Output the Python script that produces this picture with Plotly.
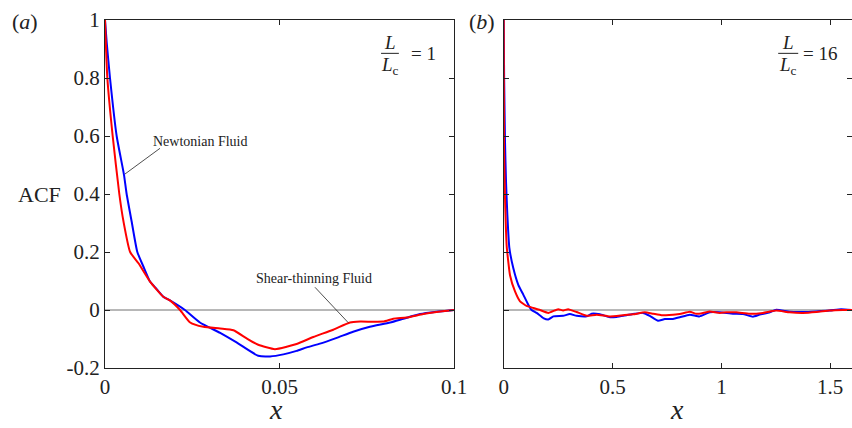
import plotly.graph_objects as go

# ---------------- data ----------------
# Panel (a): L/Lc = 1
a_newt_x = [0, 0.0005, 0.00143, 0.00334, 0.00544, 0.0062, 0.00764, 0.00926, 0.011, 0.0129, 0.0148,
            0.0167, 0.0186, 0.0229, 0.0272, 0.033, 0.0377, 0.0439, 0.0473, 0.0511, 0.0549, 0.0578,
            0.0616, 0.0664, 0.0711, 0.0759, 0.0817, 0.0855, 0.0903, 0.095, 0.1]
a_newt_y = [1, 0.92, 0.8, 0.6, 0.466, 0.4, 0.305, 0.2, 0.15, 0.098, 0.072,
            0.046, 0.033, 0, -0.043, -0.079, -0.112, -0.158, -0.160, -0.153, -0.141, -0.129,
            -0.116, -0.096, -0.075, -0.058, -0.043, -0.030, -0.014, -0.006, 0]
a_shear_x = [0, 0.0003, 0.00067, 0.0022, 0.0041, 0.0053, 0.0072, 0.0096, 0.0129, 0.0167, 0.0186,
             0.0215, 0.0244, 0.0282, 0.033, 0.0368, 0.0406, 0.0439, 0.0487, 0.0549, 0.0597, 0.0654,
             0.0702, 0.0731, 0.0797, 0.0826, 0.0864, 0.0912, 0.095, 0.1]
a_shear_y = [1, 0.9, 0.8, 0.6, 0.4, 0.305, 0.2, 0.161, 0.098, 0.046, 0.033,
             0, -0.043, -0.058, -0.064, -0.070, -0.098, -0.120, -0.135, -0.117, -0.093, -0.068,
             -0.043, -0.040, -0.040, -0.030, -0.026, -0.014, -0.007, 0]

# Panel (b): L/Lc = 16
b_newt_x = [0, 0.002, 0.006, 0.0106, 0.0167, 0.026, 0.044, 0.067, 0.090, 0.113, 0.128, 0.151,
            0.182, 0.205, 0.228, 0.273, 0.304, 0.335, 0.381, 0.404, 0.442, 0.488, 0.518, 0.564,
            0.602, 0.640, 0.671, 0.709, 0.740, 0.778, 0.809, 0.855, 0.900, 0.946, 0.992, 1.053,
            1.099, 1.145, 1.176, 1.222, 1.252, 1.313, 1.374, 1.436, 1.497, 1.550, 1.6]
b_newt_y = [1, 0.8, 0.58, 0.443, 0.329, 0.214, 0.145, 0.087, 0.053, 0.018, 0.0, -0.010,
            -0.028, -0.033, -0.022, -0.020, -0.014, -0.020, -0.022, -0.013, -0.015, -0.025, -0.024, -0.018,
            -0.013, -0.010, -0.020, -0.037, -0.031, -0.031, -0.025, -0.016, -0.022, -0.008, -0.008, -0.013,
            -0.014, -0.023, -0.016, -0.008, 0.001, -0.006, -0.007, -0.005, -0.002, 0.003, 0]
b_shear_x = [0, 0.0014, 0.006, 0.0138, 0.029, 0.052, 0.075, 0.105, 0.136, 0.167, 0.205, 0.250,
             0.273, 0.296, 0.335, 0.381, 0.427, 0.488, 0.549, 0.595, 0.648, 0.687, 0.725, 0.778,
             0.809, 0.855, 0.885, 0.916, 0.946, 0.992, 1.023, 1.069, 1.130, 1.191, 1.252, 1.313,
             1.374, 1.436, 1.497, 1.558, 1.6]
b_shear_y = [1, 0.56, 0.386, 0.22, 0.12, 0.064, 0.03, 0.014, 0.007, 0.0, -0.010, 0.003,
             -0.002, 0.003, -0.007, -0.020, -0.016, -0.022, -0.018, -0.015, -0.008, -0.013, -0.018, -0.016,
             -0.014, -0.006, -0.013, -0.010, -0.005, -0.010, -0.008, -0.008, -0.013, -0.010, -0.002, -0.008,
             -0.010, -0.007, -0.002, 0, 0]

y_ticks = [-0.2, 0, 0.2, 0.4, 0.6, 0.8, 1]
y_tick_text = ["-0.2", "0", "0.2", "0.4", "0.6", "0.8", "1"]
a_x_ticks = [0, 0.05, 0.1]
a_x_tick_text = ["0", "0.05", "0.1"]
b_x_ticks = [0, 0.5, 1, 1.5]
b_x_tick_text = ["0", "0.5", "1", "1.5"]

ratio_labels = ["1", "16"]
series_names = ["Newtonian Fluid", "Shear-thinning Fluid"]

# ---------------- figure ----------------
SERIF = "Liberation Serif"
BLUE = "#0000ff"
RED = "#ff0000"
TXT = "#222222"

fig = go.Figure()
fig.add_trace(go.Scatter(x=a_newt_x, y=a_newt_y, mode="lines",
                         line=dict(color=BLUE, width=2, shape="spline", smoothing=0.5),
                         xaxis="x", yaxis="y", name=series_names[0]))
fig.add_trace(go.Scatter(x=a_shear_x, y=a_shear_y, mode="lines",
                         line=dict(color=RED, width=2, shape="spline", smoothing=0.5),
                         xaxis="x", yaxis="y", name=series_names[1]))
fig.add_trace(go.Scatter(x=b_newt_x, y=b_newt_y, mode="lines",
                         line=dict(color=BLUE, width=2, shape="spline", smoothing=0.4),
                         xaxis="x2", yaxis="y2", name=series_names[0]))
fig.add_trace(go.Scatter(x=b_shear_x, y=b_shear_y, mode="lines",
                         line=dict(color=RED, width=2, shape="spline", smoothing=0.4),
                         xaxis="x2", yaxis="y2", name=series_names[1]))

W, H = 852, 428
ydom = [60 / H, 408 / H]
axis_common = dict(showline=True, linecolor="#222222", linewidth=1, mirror="ticks",
                   ticks="inside", ticklen=5, tickcolor="#222222", showgrid=False,
                   zeroline=False, automargin=False,
                   tickfont=dict(family=SERIF, size=21, color=TXT))

fig.update_layout(
    width=W, height=H, margin=dict(l=0, r=0, t=0, b=0, pad=0, autoexpand=False),
    paper_bgcolor="white", plot_bgcolor="white", showlegend=False,
    xaxis=dict(domain=[105 / W, 454 / W], range=[0, 0.1], tickvals=a_x_ticks,
               ticktext=a_x_tick_text, anchor="y", **axis_common),
    yaxis=dict(domain=ydom, range=[-0.2, 1], tickvals=y_ticks, ticktext=y_tick_text,
               anchor="x", **axis_common),
    xaxis2=dict(domain=[503.7 / W, 1.0], range=[0, 1.6], tickvals=b_x_ticks,
                ticktext=b_x_tick_text, anchor="y2", **axis_common),
    yaxis2=dict(domain=ydom, range=[-0.2, 1], tickvals=y_ticks, showticklabels=False,
                anchor="x2", **axis_common),
)

# zero lines
fig.add_shape(type="line", xref="x", yref="y", x0=0, x1=0.1, y0=0, y1=0,
              line=dict(color="#707070", width=1), layer="below")
fig.add_shape(type="line", xref="x2", yref="y2", x0=0, x1=1.6, y0=0, y1=0,
              line=dict(color="#707070", width=1), layer="below")

# callout lines
fig.add_shape(type="line", xref="x", yref="y", x0=0.01576, y0=0.5576, x1=0.00573, y1=0.469,
              line=dict(color="#222222", width=0.8))
fig.add_shape(type="line", xref="x", yref="y", x0=0.06017, y0=0.0783, x1=0.0697, y1=-0.0438,
              line=dict(color="#222222", width=0.8))

ann = []


def add_text(xr, yr, x, y, text, size, xanchor="center"):
    ann.append(dict(xref=xr, yref=yr, x=x, y=y, text=text, showarrow=False,
                    xanchor=xanchor, yanchor="middle",
                    font=dict(family=SERIF, size=size, color=TXT)))


add_text("x", "y", 0.0275, 0.580, series_names[0], 14)
add_text("x", "y", 0.060, 0.107, series_names[1], 14)

# panel letters, axis titles
for px, txt in [(25, "(<i>a</i>)"), (482, "(<i>b</i>)")]:
    add_text("paper", "paper", px / W, 1 - 22 / H, txt, 22)
for px in [276, 677]:
    add_text("paper", "paper", px / W, 1 - 409.5 / H, "<i>x</i>", 28)
add_text("paper", "paper", 63 / W, 1 - 194 / H, "ACF", 22, xanchor="right")

# L / Lc fractions
frac_specs = [
    ("x", "y", 0.0817, 0.0791, 0.0842, 0.0912, ratio_labels[0]),
    ("x2", "y2", 1.307, 1.261, 1.353, 1.455, ratio_labels[1]),
]
for xr, yr, xc, xb0, xb1, xeq, val in frac_specs:
    add_text(xr, yr, xc, 0.922, "<i>L</i>", 19)
    add_text(xr, yr, xc, 0.843, "<i>L</i><sub>c</sub>", 19)
    add_text(xr, yr, xeq, 0.883, "= " + val, 19)
    fig.add_shape(type="line", xref=xr, yref=yr, x0=xb0, x1=xb1, y0=0.885, y1=0.885,
                  line=dict(color=TXT, width=1))

fig.update_layout(annotations=ann)
fig.write_html("out.html", config={"displayModeBar": False},
               post_script="document.body.style.margin='0';document.body.style.overflow='hidden';")
